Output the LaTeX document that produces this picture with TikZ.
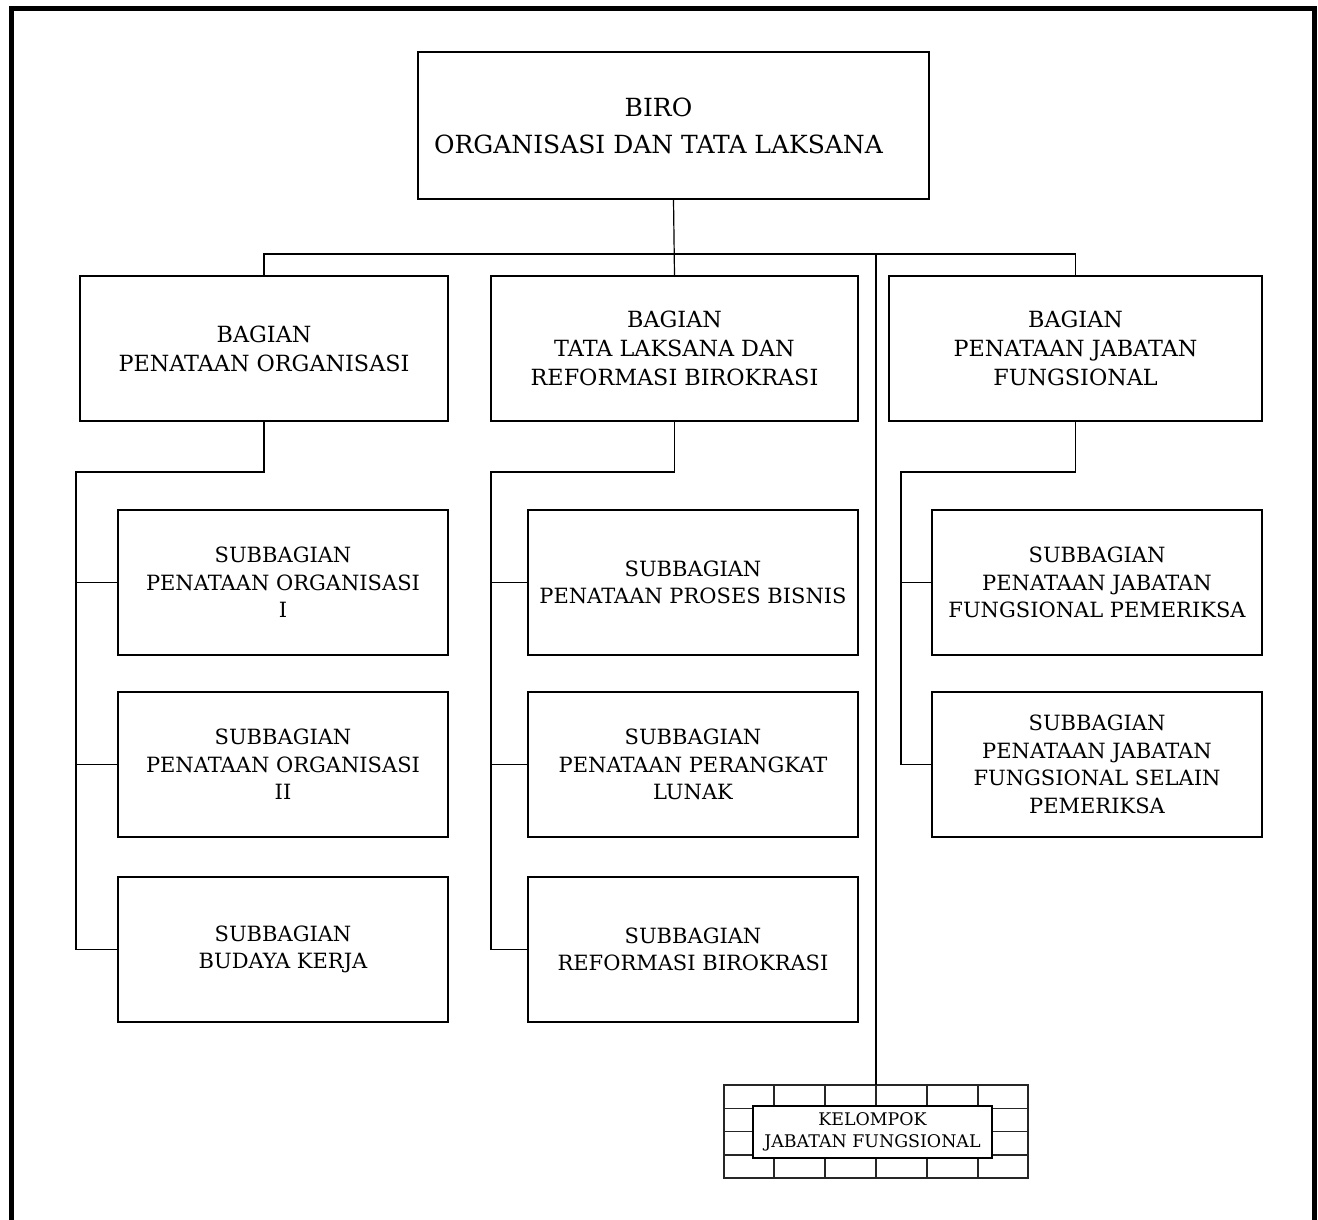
\documentclass[tikz,border=0pt]{standalone}
\usepackage{fontspec}
\setmainfont{DejaVu Serif}
\begin{document}
\begin{tikzpicture}[x=1pt,y=-1pt,
  box/.style={draw=black, line width=1.2pt, fill=white, align=center, inner sep=0pt,
    font=\fontsize{21}{27.5}\selectfont},
  bagbox/.style={box, minimum width=368, minimum height=145,
    font=\fontsize{22.3}{29}\selectfont},
  subbox/.style={box, minimum width=330, minimum height=145},
  link/.style={draw=black, line width=1.2pt},
  brick/.style={draw=black!85, line width=1.1pt}]
\useasboundingbox (0,0) rectangle (1318,1219);

% outer frame, open at the bottom
\draw[line width=5pt] (11.5,1240) -- (11.5,8) -- (1314,8) -- (1314,1240);

% head of the bureau (text set a little left of centre)
\node[box, minimum width=511, minimum height=147, font=\fontsize{25}{37}\selectfont]
  (biro) at (673.5,125.5) {BIRO\hspace*{30pt}\\ORGANISASI DAN TATA LAKSANA\hspace*{30pt}};

% divisions
\node[bagbox] (bl) at (264,348.5) {BAGIAN\\PENATAAN ORGANISASI};
\node[bagbox, minimum width=367] (bm) at (674.5,348.5) {BAGIAN\\TATA LAKSANA DAN\\REFORMASI BIROKRASI};
\node[bagbox, minimum width=373] (br) at (1075.5,348.5) {BAGIAN\\PENATAAN JABATAN\\FUNGSIONAL};

% subdivisions, left column
\node[subbox] (s11) at (283,582.5) {SUBBAGIAN\\PENATAAN ORGANISASI\\I};
\node[subbox] (s12) at (283,764.5) {SUBBAGIAN\\PENATAAN ORGANISASI\\II};
\node[subbox] (s13) at (283,949.5) {SUBBAGIAN\\BUDAYA KERJA};

% subdivisions, middle column
\node[subbox] (s21) at (693,582.5) {SUBBAGIAN\\PENATAAN PROSES BISNIS};
\node[subbox] (s22) at (693,764.5) {SUBBAGIAN\\PENATAAN PERANGKAT\\LUNAK};
\node[subbox] (s23) at (693,949.5) {SUBBAGIAN\\REFORMASI BIROKRASI};

% subdivisions, right column
\node[subbox] (s31) at (1097,582.5) {SUBBAGIAN\\PENATAAN JABATAN\\FUNGSIONAL PEMERIKSA};
\node[subbox] (s32) at (1097,764.5) {SUBBAGIAN\\PENATAAN JABATAN\\FUNGSIONAL SELAIN\\PEMERIKSA};

% functional group: brick wall behind a label box
\coordinate (kel) at (876,1085);
\draw[brick] (724,1085) rectangle (1028,1178);
\foreach \yy in {1108.5,1131.5,1155} \draw[brick] (724,\yy) -- (1028,\yy);
\foreach \xx in {774,825,876,927,978} \draw[brick] (\xx,1085) -- (\xx,1178);
\node[box, line width=1.1pt, minimum width=239, minimum height=52,
  font=\fontsize{17.4}{22}\selectfont] (kjf) at (872.5,1132) {KELOMPOK\\JABATAN FUNGSIONAL};

% main bus
\coordinate (bus) at (674.5,254);
\coordinate (busk) at (876,254);
\draw[link] (biro.south) -- (bm.north);
\draw[link] (bl.north) |- (bus) -| (br.north);
\draw[link] (busk) -- (kel);

% left branch
\coordinate (lj) at (76,472);
\draw[link] (bl.south) |- (lj) |- (s13.west);
\draw[link] (lj |- s11.west) -- (s11.west);
\draw[link] (lj |- s12.west) -- (s12.west);

% middle branch
\coordinate (mj) at (491,472);
\draw[link] (bm.south) |- (mj) |- (s23.west);
\draw[link] (mj |- s21.west) -- (s21.west);
\draw[link] (mj |- s22.west) -- (s22.west);

% right branch
\coordinate (rj) at (901,472);
\draw[link] (br.south) |- (rj) |- (s32.west);
\draw[link] (rj |- s31.west) -- (s31.west);
\end{tikzpicture}
\end{document}
